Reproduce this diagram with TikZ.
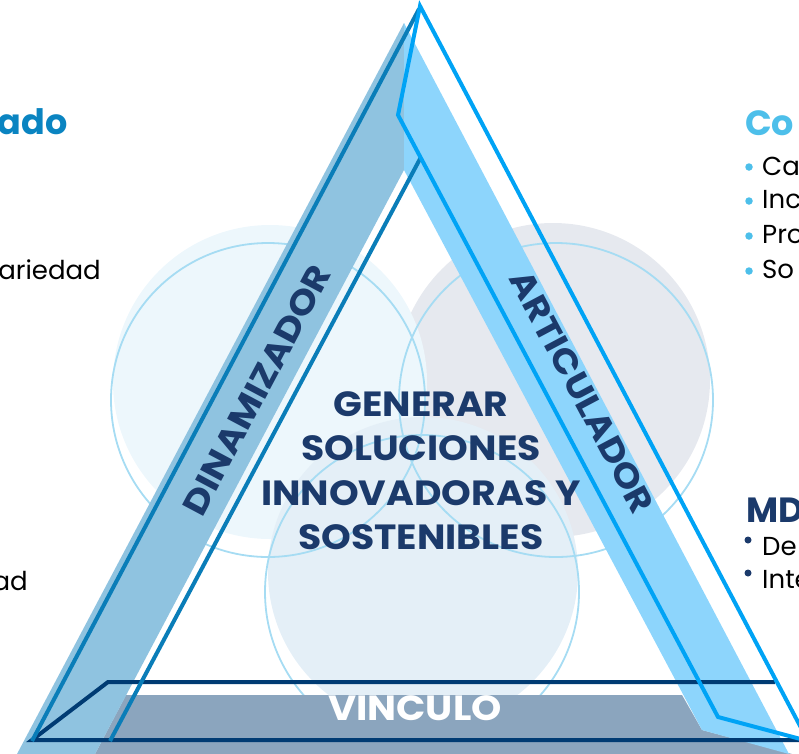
\documentclass[tikz,border=0pt]{standalone}
\usepackage{fontspec}
\setmainfont{Poppins}
\definecolor{lfill}{HTML}{EDF7FC}
\definecolor{rfill}{HTML}{E6E9EF}
\definecolor{bfill}{HTML}{E4EFF7}
\definecolor{cline}{HTML}{A6DCF3}
\definecolor{lband}{HTML}{8FC3E0}
\definecolor{rband}{HTML}{8DD5FC}
\definecolor{dblue}{HTML}{0A7DB8}
\definecolor{bright}{HTML}{00A3F5}
\definecolor{navy}{HTML}{003B73}
\definecolor{grayband}{HTML}{8BA5BE}
\definecolor{tnavy}{HTML}{1B3A6B}
\definecolor{tblue}{HTML}{0A84C1}
\definecolor{tlight}{HTML}{4DBFEA}
\tikzset{
  circline/.style={draw=cline,line width=1.8pt},
  bandtext/.style={text=tnavy,font=\bfseries\fontsize{34}{34}\selectfont,inner sep=0pt},
  sidetext/.style={text=black,font=\fontsize{26}{26}\selectfont,inner sep=0pt},
  headtext/.style={font=\bfseries\fontsize{35}{35}\selectfont,inner sep=0pt},
  bul/.style={circle,inner sep=0pt,minimum size=7.5pt},
}
\begin{document}
\begin{tikzpicture}[x=1pt,y=-1pt]
\useasboundingbox (0,0) rectangle (799,753);
\clip (0,0) rectangle (799,753);
% circle fills
\fill[rfill] (553,380) circle[radius=157pt];
\fill[lfill] (270,382) circle[radius=157pt];
\fill[bfill] (423,572) circle[radius=155pt];
% circle outlines
\draw[circline] (268,400) circle[radius=157pt];
\draw[circline] (556,400) circle[radius=157pt];
\draw[circline] (422,592) circle[radius=157pt];
% gray band
\fill[grayband] (126,695) -- (682,695) -- (702,730) -- (792,754) -- (95,754) -- cycle;
% band fills
\fill[lband] (404,23) -- (404,170) -- (95,754) -- (17,754) -- cycle;
\fill[rband] (404,23) -- (789,754) -- (702,730) -- (404,170) -- cycle;
% navy outline of VINCULO band
\draw[navy,line width=4pt,line join=miter] (805,740) -- (32,740) -- (108,682) -- (775,682);
% dark blue lines of left band
\draw[dblue,line width=4pt] (419,9) -- (32,741);
\draw[dblue,line width=4pt] (421,157) -- (110,741);
% bright blue shape of right band
\draw[bright,line width=4pt,line join=miter,miter limit=20] (420,6) -- (808,741) -- (718,717) -- (398,115) -- cycle;
% band texts
\node[bandtext,rotate=62] (dyn) at (257,390) {\scalebox{1.13}[1]{DINAMIZADOR}};
\node[bandtext,rotate=-62] (art) at (582,392) {\scalebox{1.11}[1]{ARTICULADOR}};
\node[text=white,font=\bfseries\fontsize{35}{35}\selectfont,inner sep=0pt] (vin) at (415,708) {\scalebox{1.1}[1]{VINCULO}};
% centre text
\node[text=tnavy,font=\bfseries\fontsize{35}{44.5}\selectfont,inner sep=0pt] (gen) at (421,474) {\scalebox{1.08}[1]{\begin{tabular}{@{}c@{}}GENERAR\\SOLUCIONES\\INNOVADORAS Y\\SOSTENIBLES\end{tabular}}};
% left side texts
\node[headtext,text=tblue,anchor=base east] (ado) at (68,134) {ado};
\node[sidetext,anchor=base east] (var) at (101,279) {ariedad};
\node[sidetext,anchor=base east] (ad) at (28,590) {ad};
% right side texts
\node[headtext,text=tlight,anchor=base west] (co) at (745,135) {Co};
\node[bul,fill=tlight] (b1) at (749,167) {};
\node[bul,fill=tlight] (b2) at (749,201) {};
\node[bul,fill=tlight] (b3) at (749,236) {};
\node[bul,fill=tlight] (b4) at (749,271) {};
\node[sidetext,anchor=base west] (t1) at (762,175) {Ca};
\node[sidetext,anchor=base west] (t2) at (762,208) {Inc};
\node[sidetext,anchor=base west] (t3) at (762,243) {Pro};
\node[sidetext,anchor=base west] (t4) at (762,278) {So};
\node[headtext,text=tnavy,anchor=base west] (md) at (746,522) {MD};
\node[bul,fill=tnavy,minimum size=7pt] (b5) at (748,540) {};
\node[bul,fill=tnavy,minimum size=7pt] (b6) at (748,573) {};
\node[sidetext,anchor=base west] (t5) at (762,555) {De};
\node[sidetext,anchor=base west] (t6) at (762,588) {Inte};
\end{tikzpicture}
\end{document}
